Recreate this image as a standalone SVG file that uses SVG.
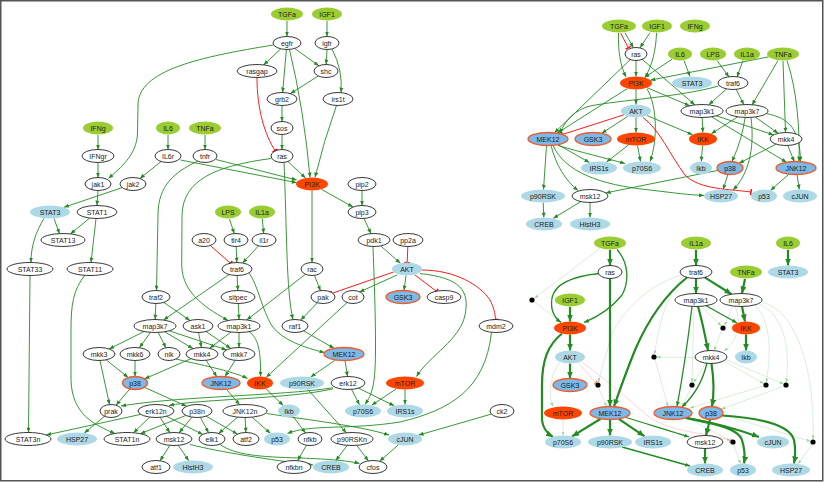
<svg xmlns="http://www.w3.org/2000/svg" width="825" height="482" viewBox="0 0 825 482">
<defs>
<marker id="a" viewBox="0 0 5 4" refX="5" refY="2" markerWidth="5" markerHeight="4" orient="auto" markerUnits="userSpaceOnUse"><path d="M0,0L5,2L0,4z" fill="#228B22"/></marker>
<marker id="A" viewBox="0 0 7 6" refX="7" refY="3" markerWidth="7" markerHeight="6" orient="auto" markerUnits="userSpaceOnUse"><path d="M0,0L7,3L0,6z" fill="#228B22"/></marker>
<marker id="f" viewBox="0 0 4 3" refX="4" refY="1.5" markerWidth="4" markerHeight="3" orient="auto" markerUnits="userSpaceOnUse"><path d="M0,0L4,1.5L0,3z" fill="#9fd29f"/></marker>
<marker id="t" viewBox="0 0 2 6" refX="1" refY="3" markerWidth="2" markerHeight="6" orient="auto" markerUnits="userSpaceOnUse"><path d="M1,0V6" stroke="#ff0000" stroke-width="1.4"/></marker>
<marker id="ft" viewBox="0 0 2 5" refX="1" refY="2.5" markerWidth="2" markerHeight="5" orient="auto" markerUnits="userSpaceOnUse"><path d="M1,0V5" stroke="#ff7070" stroke-width="1.2"/></marker>
</defs>
<style>
.s{fill:#9ACD32;stroke:none}
.w{fill:#fff;stroke:#222;stroke-width:0.9}
.m{fill:#ADD8E6;stroke:none}
.i{fill:#FF4500;stroke:none}
.mi{fill:#7CB8E8;stroke:#EE5A2C;stroke-width:1.3}
.tx{font-family:"Liberation Sans",Arial,sans-serif;font-size:7px;fill:#222;text-anchor:middle}
.e{fill:none;stroke:#228B22;stroke-width:0.9;marker-end:url(#a)}
.r{fill:none;stroke:#ff0000;stroke-width:0.9;marker-end:url(#t)}
.E{fill:none;stroke:#228B22;stroke-width:2.2;marker-end:url(#A)}
.M{fill:none;stroke:#228B22;stroke-width:1.3;marker-end:url(#a)}
.f{fill:none;stroke:#bfe3bf;stroke-width:0.6;marker-end:url(#f)}
.fr{fill:none;stroke:#ffb8b8;stroke-width:0.6;marker-end:url(#ft)}
.dot{fill:#000}
</style>
<rect x="0.75" y="0.75" width="822" height="480" fill="#fff" stroke="#555" stroke-width="1.5"/>

<g id="connectors">
<!-- LEFT PANEL -->
<path class="e" d="M287,21L287,36.5"/>
<path class="e" d="M327,21L327,36.5"/>
<path class="e" d="M280.8,48.8L263.6,64.9"/>
<path class="e" d="M286.4,49.5L282.6,92.5"/>
<path class="e" d="M294.6,48.5L318.8,65.8"/>
<path class="e" d="M289.5,49.5Q304,110 310,177.5"/>
<path class="e" d="M273.3,45C200,57 138,70 138,105L137.5,133C137,155 120,168 108.5,178.5"/>
<path class="e" d="M327,49.5L326.2,64.5"/>
<path class="e" d="M332,49Q343,70 341,92.5"/>
<path class="e" d="M318.2,76L290.4,93.6"/>
<path class="r" d="M257,77.5C257,110 265,135 275,150.5"/>
<path class="e" d="M282,105.5L282,121.5"/>
<path class="e" d="M282,134.5L282,149.5"/>
<path class="e" d="M336.5,105.5Q324,140 315,177.5"/>
<path class="e" d="M287.9,161.5L305.6,178"/>
<path class="e" d="M180.5,160L296.7,182.7"/>
<path class="e" d="M216,159.5L296.7,180"/>
<path class="e" d="M271,158.5C215,166 183,180 182,215L181.7,265C182,295 210,310 228,320.5"/>
<path class="e" d="M284,162.5C287,230 286,290 293,319.5"/>
<path class="e" d="M312,190.5L312,262.5"/>
<path class="e" d="M321.4,189.3L353,207"/>
<path class="e" d="M362,190.5L362,205.5"/>
<path class="e" d="M364,218.5L371,233.7"/>
<path class="e" d="M98,135L98,149.5"/>
<path class="e" d="M168,135L168,149.5"/>
<path class="e" d="M205,135L205,149.5"/>
<path class="e" d="M98,162.5L98,177.5"/>
<path class="e" d="M161.1,161.5L139.9,178.5"/>
<path class="e" d="M197,161.5C175,172 158,185 158,215L156.5,290.5"/>
<path class="e" d="M98,190.5L97,205.5"/>
<path class="e" d="M122.2,187.6L63.9,207.3"/>
<path class="e" d="M54,218.5L59.5,233.8"/>
<path class="e" d="M44,218.3C36,232 31,245 31,262.5"/>
<path class="e" d="M89.7,218L70.4,233.9"/>
<path class="e" d="M96,218.5L91,262.5"/>
<path class="e" d="M30,275.5L28.5,432.5"/>
<path class="e" d="M85,275C73,290 71,305 71,330L71,380C72,415 95,425 115,433.5"/>
<path class="e" d="M229.5,219L234.3,233.6"/>
<path class="e" d="M262.3,219L263.7,233.5"/>
<path class="r" d="M210.3,245.5L230.4,263.2"/>
<path class="e" d="M236.2,246.5L236.8,262.5"/>
<path class="e" d="M258.6,245.8L242.6,263"/>
<path class="e" d="M229.1,274.5L163.5,320.1"/>
<path class="e" d="M237.2,275.5L237.8,290.5"/>
<path class="e" d="M249,273C258,285 262,310 272,326C282,340 305,348 324.5,352.5"/>
<path class="e" d="M238.3,303.5L239,319.5"/>
<path class="e" d="M155.8,303.5L155.2,319.5"/>
<path class="e" d="M163.8,302.4L190,320.5"/>
<path class="e" d="M314.5,275.5L320.5,290.8"/>
<path class="e" d="M305.4,274.2L246.7,320"/>
<path class="e" d="M317.4,302.8L300.7,320.1"/>
<path class="e" d="M303.6,330.9L334.1,348.3"/>
<path class="r" d="M393.5,272L331.5,293.5"/>
<path class="e" d="M397,275L359.5,292"/>
<path class="e" d="M380.7,245.9L400.4,263.2"/>
<path class="r" d="M407.8,246.5L407.2,262.5"/>
<path class="e" d="M406,275.5L404,290.5"/>
<path class="r" d="M414.5,274.6L436.3,291.2"/>
<path class="r" d="M421.5,270C455,270 480,285 490,300C494,308 495,313 495.5,319.5"/>
<path class="e" d="M420,273.5C460,278 470,290 465,315C460,340 430,355 416.5,376.5"/>
<path class="e" d="M373,246.5C375,300 377,360 374,380C372,395 368,400 365,404.5"/>
<path class="e" d="M347.1,302.5L266.2,377.3"/>
<path class="e" d="M335.5,359.9L310.7,377"/>
<path class="e" d="M345,360.5L347.5,376.5"/>
<path class="e" d="M351.5,389.3L359.5,404.8"/>
<path class="e" d="M358.4,388.1L394.3,405.8"/>
<path class="e" d="M396.3,388.8L371.7,405.2"/>
<path class="e" d="M405,389.5L405,404.5"/>
<path class="e" d="M333,387.8C280,396 180,396 121,406"/>
<path class="e" d="M333,388.8C290,399 200,399 169,405.5"/>
<path class="e" d="M144,331.5L109.1,349"/>
<path class="e" d="M150.5,332.3L139.4,347.8"/>
<path class="e" d="M158.2,332.4L165.9,347.8"/>
<path class="e" d="M164.7,331.8L193,348.6"/>
<path class="e" d="M169.3,330.8L226.6,349.9"/>
<path class="e" d="M198.6,332.5L201.4,347.5"/>
<path class="e" d="M206,331.5L230.8,348.4"/>
<path class="e" d="M231,332L209.6,348.3"/>
<path class="e" d="M239,332.5L239,347.5"/>
<path class="e" d="M249,331.5C258,338 261,350 260.5,376.5"/>
<path class="e" d="M106.2,359.8L128.2,377.5"/>
<path class="e" d="M135,360.5L135,376.5"/>
<path class="e" d="M191,358.7L144.6,378.8"/>
<path class="e" d="M206.1,360.3L216.8,376.7"/>
<path class="e" d="M235.1,360.3L225,376.6"/>
<path class="e" d="M176,359C200,365 230,370 247.5,378.5"/>
<path class="e" d="M100,360.5L109.5,404.5"/>
<path class="e" d="M129.9,388.9L116,405.2"/>
<path class="e" d="M144.4,387.3L186.6,406.3"/>
<path class="e" d="M226.3,389.2L239.6,404.7"/>
<path class="e" d="M266,388.8L283.3,405.5"/>
<path class="e" d="M307.6,389.3L346.4,432.7"/>
<path class="e" d="M293.5,417L305.5,433"/>
<path class="e" d="M306.5,445.2L297.6,460.6"/>
<path class="e" d="M347.3,445.3L335.7,460.7"/>
<path class="e" d="M356.7,445.3L368.4,460.9"/>
<path class="e" d="M398.2,445L379.6,461.3"/>
<path class="e" d="M491.4,414.1L418.6,435.1"/>
<path class="e" d="M491.5,332.5C485,390 450,410 400,422C350,430 310,424 287.5,433.5"/>
<path class="e" d="M266.5,413.5C310,420 360,426 389,435"/>
<path class="e" d="M252,417.2L270.5,433.4"/>
<path class="e" d="M237.8,417.1L218.6,433.4"/>
<path class="e" d="M245.2,417.5L245.8,432.5"/>
<path class="e" d="M140.6,414.4L46.2,435"/>
<path class="e" d="M149.7,417.1L133.5,432.8"/>
<path class="e" d="M160.1,417.3L169.9,432.7"/>
<path class="e" d="M166.5,416.3L202.8,434.4"/>
<path class="e" d="M186,415.4L140.3,433.7"/>
<path class="e" d="M192,417.1L179.1,432.8"/>
<path class="e" d="M200.4,417.3L208.6,432.7"/>
<path class="e" d="M206.1,416.2L237.4,434.1"/>
<path class="e" d="M104.6,416.3L84.3,433"/>
<path class="e" d="M169.9,445.3L160,460.8"/>
<path class="e" d="M178.2,445.3L188.8,460.8"/>
<path class="e" d="M190,444.5C220,452 270,460 313,465"/>
<path class="e" d="M220,444.5C235,455 260,457 300,458C330,459 350,461 359.5,463.5"/>

<!-- RIGHT TOP PANEL -->
<path class="e" d="M625,32.7L633.3,47.7"/>
<path class="r" d="M620.7,33.3L628.3,47.7"/>
<path class="e" d="M650,32.7L640,47.7"/>
<path class="e" d="M618.5,33C618,50 620,65 626,77"/>
<path class="e" d="M656.5,33C656,50 652,66 645,77.5"/>
<path class="e" d="M636,60.5L636,76.5"/>
<path class="e" d="M672,59.2L644.4,77.5"/>
<path class="e" d="M684,60.5L690,76.5"/>
<path class="e" d="M717,60.5L729,77"/>
<path class="e" d="M743,60.5L737,77"/>
<path class="e" d="M768.4,56.9L650.4,80.2"/>
<path class="e" d="M778,60.5L752,105"/>
<path class="e" d="M783,61L785.5,132.5"/>
<path class="e" d="M787,60.5C797,90 800,130 799,161.5"/>
<path class="e" d="M630.3,59.5L554.4,132.8"/>
<path class="e" d="M642.2,59.4L694.9,104.9"/>
<path class="e" d="M726.5,88.9L708.8,104.8"/>
<path class="e" d="M736.2,89.4L743.8,104.6"/>
<path class="e" d="M718.5,86C680,97 620,100 590,106C575,110 565,120 560,133.5"/>
<path class="e" d="M636,89.5L636,104.5"/>
<path class="e" d="M627.4,88.5L557.1,133.2"/>
<path class="e" d="M647.1,87.7L689.6,105.7"/>
<path class="e" d="M647,89C657,105 658,140 650,161.5"/>
<path class="r" d="M623.9,114.8L562.3,134.5"/>
<path class="e" d="M627.7,116.4L601.7,133.3"/>
<path class="e" d="M636,117.5L636,132.5"/>
<path class="e" d="M646.8,115.5L692.6,134.7"/>
<path class="r" d="M643,117.5C660,130 670,155 685,175C700,190 730,189 751,192"/>
<path class="e" d="M702.2,117.5L702.8,132.5"/>
<path class="e" d="M716.3,115.8L773.6,134.9"/>
<path class="e" d="M711.6,116.8L786.6,162.3"/>
<path class="e" d="M737.8,116.8L711.3,133.7"/>
<path class="e" d="M755.3,117L778.1,133.3"/>
<path class="e" d="M745.1,117.5Q742,140 731.9,161.6"/>
<path class="e" d="M751,117.5C755,150 748,175 733,190"/>
<path class="e" d="M766,113.5C790,118 800,130 800.5,161.5"/>
<path class="e" d="M776.1,144.1L739,163.3"/>
<path class="e" d="M787.7,145.1L794.3,161.7"/>
<path class="e" d="M557.9,144.6L589.4,162.5"/>
<path class="e" d="M558,145.5C580,152 605,158 625,163.5"/>
<path class="e" d="M546.5,145.5L543.5,189.5"/>
<path class="e" d="M551,145.5C556,165 565,180 578,190.5"/>
<path class="e" d="M553,145.5C565,172 600,185 650,190C675,193 690,195 704,195.5"/>
<path class="e" d="M628.4,145L606.5,162.1"/>
<path class="e" d="M637.5,145.5L640.5,161.5"/>
<path class="e" d="M702.5,145.5L701.3,161.5"/>
<path class="e" d="M717.9,170.4L605.7,192.9"/>
<path class="e" d="M727.9,174.4L723.1,189.5"/>
<path class="e" d="M789,174.1L770.5,190.4"/>
<path class="e" d="M797,174.5L799.3,189.5"/>
<path class="e" d="M543.2,202.5L543.8,217.5"/>
<path class="e" d="M580.8,201.6L553.2,218.4"/>
<path class="e" d="M590,202.5L590,217.5"/>

<!-- RIGHT BOTTOM PANEL -->
<path class="f" d="M600,248.3L534.5,298.2"/>
<path class="f" d="M534.5,301.5L559.5,321.5"/>
<path class="f" d="M560,362C550,375 548,395 553,406.5"/>
<path class="f" d="M563,419.5L563,435.5"/>
<path class="fr" d="M577,361C585,370 590,377 595.7,382.5"/>
<path class="fr" d="M579,360C600,375 630,400 650,418C680,435 710,432 730.4,441"/>
<path class="f" d="M598.5,387.6L606.5,406.5"/>
<path class="f" d="M682,274.5C650,285 620,310 610,340C605,360 600,372 598.6,382.4"/>
<path class="f" d="M684,276C665,295 658,330 654.5,354.4"/>
<path class="f" d="M695,357.5L656.6,357"/>
<path class="f" d="M655,359.5L668,406.5"/>
<path class="f" d="M701,306L721.2,325.8"/>
<path class="f" d="M733,306L724.5,325.5"/>
<path class="f" d="M721.5,330.5L714,350.5"/>
<path class="f" d="M735,306C742,325 738,340 724,351"/>
<path class="f" d="M694,306.5L692,382.4"/>
<path class="f" d="M706,363L693.4,382.8"/>
<path class="f" d="M691,387.5L682,406.8"/>
<path class="f" d="M755,305C770,320 772,350 766.2,382.4"/>
<path class="f" d="M759,304C785,315 790,350 786.3,382.4"/>
<path class="f" d="M761,302C800,310 815,380 813,439.4"/>
<path class="f" d="M724,361L763.7,383.6"/>
<path class="f" d="M726,359.5L783.6,384"/>
<path class="f" d="M763.5,386L690,408"/>
<path class="f" d="M783.5,386.5L721.5,409"/>
<path class="f" d="M722,414.5L810.5,441.3"/>
<path class="f" d="M812,444.5L798,464"/>
<path class="f" d="M689,418.5L730.6,441"/>
<path class="f" d="M733.5,444.6L740.5,463.8"/>
<path class="E" d="M610,250L610,265.5"/>
<path class="M" d="M617,249.5C628,262 630,280 622,295C610,310 595,318 584,322.5"/>
<path class="M" d="M599,273.5C575,276 555,283 552,298C550,310 555,318 561,322.5"/>
<path class="E" d="M610,278.5L610,406.5"/>
<path class="E" d="M570,307L570,321.5"/>
<path class="E" d="M570,334.5L570,350.5"/>
<path class="E" d="M562,333.5C548,345 542,360 542,385L542,420C543,430 548,434 553,437"/>
<path class="E" d="M570,363.5L570,378.5"/>
<path class="E" d="M687,277.5C665,295 648,320 635,350C625,375 618,395 614,406.5"/>
<path class="E" d="M696,250L696,265.5"/>
<path class="E" d="M696,278.5L696,293.5"/>
<path class="E" d="M704.7,277.4L731.6,294.2"/>
<path class="E" d="M745,279L742,293.5"/>
<path class="E" d="M788,250L788,265.5"/>
<path class="E" d="M742,306.5L745,321.5"/>
<path class="M" d="M706.2,305.7L737.1,323"/>
<path class="E" d="M746,334.5L746,350.5"/>
<path class="E" d="M698,306.5C702,320 705,335 708,350.5"/>
<path class="M" d="M692,306.5C688,340 682,380 677,406.5"/>
<path class="M" d="M707,363C703,380 695,395 682,407"/>
<path class="E" d="M711.5,363.5C714,380 714,395 712,406.5"/>
<path class="E" d="M710,419.5L706,435.5"/>
<path class="E" d="M722,415.5C760,418 790,425 794,440C796,450 795,458 794,463.5"/>
<path class="E" d="M685,417.5C710,422 740,430 759,437"/>
<path class="E" d="M686,418C715,424 738,428 742,440C745,450 745,458 744,463.5"/>
<path class="E" d="M705,448.5L705,463.5"/>
<path class="M" d="M622,447L690,466"/>
<path class="E" d="M600.7,418.8L572.1,436.4"/>
<path class="E" d="M610,419.5L610,435.5"/>
<path class="E" d="M618.7,418.9L644.5,436.3"/>
<path class="M" d="M626,417.5C650,425 675,432 689,437"/>
</g>

<!-- LEFT PANEL NODES -->
<g id="L_TGFa"><ellipse class="s" cx="287" cy="14" rx="16" ry="6.5"/><text class="tx" x="287" y="16.5">TGFa</text></g>
<g id="L_IGF1"><ellipse class="s" cx="327" cy="14" rx="15" ry="6.5"/><text class="tx" x="327" y="16.5">IGF1</text></g>
<g id="L_IFNg"><ellipse class="s" cx="98" cy="128" rx="15" ry="6.5"/><text class="tx" x="98" y="130.5">IFNg</text></g>
<g id="L_IL6"><ellipse class="s" cx="168" cy="128" rx="12" ry="6.5"/><text class="tx" x="168" y="130.5">IL6</text></g>
<g id="L_TNFa"><ellipse class="s" cx="205" cy="128" rx="16" ry="6.5"/><text class="tx" x="205" y="130.5">TNFa</text></g>
<g id="L_LPS"><ellipse class="s" cx="228" cy="212" rx="13" ry="6.5"/><text class="tx" x="228" y="214.5">LPS</text></g>
<g id="L_IL1a"><ellipse class="s" cx="262" cy="212" rx="13" ry="6.5"/><text class="tx" x="262" y="214.5">IL1a</text></g>
<g id="L_egfr"><ellipse class="w" cx="287" cy="43" rx="14" ry="6.5"/><text class="tx" x="287" y="45.5">egfr</text></g>
<g id="L_igfr"><ellipse class="w" cx="327" cy="43" rx="12" ry="6.5"/><text class="tx" x="327" y="45.5">igfr</text></g>
<g id="L_rasgap"><ellipse class="w" cx="257" cy="71" rx="20" ry="6.5"/><text class="tx" x="257" y="73.5">rasgap</text></g>
<g id="L_shc"><ellipse class="w" cx="326" cy="71" rx="12" ry="6.5"/><text class="tx" x="326" y="73.5">shc</text></g>
<g id="L_grb2"><ellipse class="w" cx="282" cy="99" rx="15" ry="6.5"/><text class="tx" x="282" y="101.5">grb2</text></g>
<g id="L_irs1t"><ellipse class="w" cx="338" cy="99" rx="15" ry="6.5"/><text class="tx" x="338" y="101.5">irs1t</text></g>
<g id="L_sos"><ellipse class="w" cx="282" cy="128" rx="11" ry="6.5"/><text class="tx" x="282" y="130.5">sos</text></g>
<g id="L_ras"><ellipse class="w" cx="282" cy="156" rx="11" ry="6.5"/><text class="tx" x="282" y="158.5">ras</text></g>
<g id="L_pip2"><ellipse class="w" cx="362" cy="184" rx="14" ry="6.5"/><text class="tx" x="362" y="186.5">pip2</text></g>
<g id="L_pip3"><ellipse class="w" cx="362" cy="212" rx="14" ry="6.5"/><text class="tx" x="362" y="214.5">pip3</text></g>
<g id="L_pdk1"><ellipse class="w" cx="374" cy="240" rx="16" ry="6.5"/><text class="tx" x="374" y="242.5">pdk1</text></g>
<g id="L_pp2a"><ellipse class="w" cx="408" cy="240" rx="15" ry="6.5"/><text class="tx" x="408" y="242.5">pp2a</text></g>
<g id="L_IFNgr"><ellipse class="w" cx="98" cy="156" rx="16" ry="6.5"/><text class="tx" x="98" y="158.5">IFNgr</text></g>
<g id="L_IL6r"><ellipse class="w" cx="168" cy="156" rx="13" ry="6.5"/><text class="tx" x="168" y="158.5">IL6r</text></g>
<g id="L_tnfr"><ellipse class="w" cx="205" cy="156" rx="12" ry="6.5"/><text class="tx" x="205" y="158.5">tnfr</text></g>
<g id="L_jak1"><ellipse class="w" cx="98" cy="184" rx="13" ry="6.5"/><text class="tx" x="98" y="186.5">jak1</text></g>
<g id="L_jak2"><ellipse class="w" cx="133" cy="184" rx="13" ry="6.5"/><text class="tx" x="133" y="186.5">jak2</text></g>
<g id="L_STAT3"><ellipse class="m" cx="50" cy="212" rx="20" ry="6.5"/><text class="tx" x="50" y="214.5">STAT3</text></g>
<g id="L_STAT1"><ellipse class="w" cx="97" cy="212" rx="20" ry="6.5"/><text class="tx" x="97" y="214.5">STAT1</text></g>
<g id="L_STAT13"><ellipse class="w" cx="63" cy="240" rx="22" ry="6.5"/><text class="tx" x="63" y="242.5">STAT13</text></g>
<g id="L_a20"><ellipse class="w" cx="204" cy="240" rx="12" ry="6.5"/><text class="tx" x="204" y="242.5">a20</text></g>
<g id="L_tlr4"><ellipse class="w" cx="236" cy="240" rx="12" ry="6.5"/><text class="tx" x="236" y="242.5">tlr4</text></g>
<g id="L_il1r"><ellipse class="w" cx="264" cy="240" rx="12" ry="6.5"/><text class="tx" x="264" y="242.5">il1r</text></g>
<g id="L_STAT33"><ellipse class="w" cx="30" cy="269" rx="23" ry="6.5"/><text class="tx" x="30" y="271.5">STAT33</text></g>
<g id="L_STAT11"><ellipse class="w" cx="90" cy="269" rx="23" ry="6.5"/><text class="tx" x="90" y="271.5">STAT11</text></g>
<g id="L_traf6"><ellipse class="w" cx="237" cy="269" rx="15" ry="6.5"/><text class="tx" x="237" y="271.5">traf6</text></g>
<g id="L_rac"><ellipse class="w" cx="312" cy="269" rx="11" ry="6.5"/><text class="tx" x="312" y="271.5">rac</text></g>
<g id="L_AKT"><ellipse class="m" cx="407" cy="269" rx="15" ry="6.5"/><text class="tx" x="407" y="271.5">AKT</text></g>
<g id="L_traf2"><ellipse class="w" cx="156" cy="297" rx="14" ry="6.5"/><text class="tx" x="156" y="299.5">traf2</text></g>
<g id="L_sitpec"><ellipse class="w" cx="238" cy="297" rx="17" ry="6.5"/><text class="tx" x="238" y="299.5">sitpec</text></g>
<g id="L_pak"><ellipse class="w" cx="323" cy="297" rx="12" ry="6.5"/><text class="tx" x="323" y="299.5">pak</text></g>
<g id="L_cot"><ellipse class="w" cx="353" cy="297" rx="11" ry="6.5"/><text class="tx" x="353" y="299.5">cot</text></g>
<g id="L_GSK3"><ellipse class="mi" cx="403" cy="297" rx="17" ry="6.5"/><text class="tx" x="403" y="299.5">GSK3</text></g>
<g id="L_casp9"><ellipse class="w" cx="444" cy="297" rx="17" ry="6.5"/><text class="tx" x="444" y="299.5">casp9</text></g>
<g id="L_map3k7"><ellipse class="w" cx="155" cy="326" rx="21" ry="6.5"/><text class="tx" x="155" y="328.5">map3k7</text></g>
<g id="L_ask1"><ellipse class="w" cx="198" cy="326" rx="15" ry="6.5"/><text class="tx" x="198" y="328.5">ask1</text></g>
<g id="L_map3k1"><ellipse class="w" cx="239" cy="326" rx="21" ry="6.5"/><text class="tx" x="239" y="328.5">map3k1</text></g>
<g id="L_raf1"><ellipse class="w" cx="295" cy="326" rx="13" ry="6.5"/><text class="tx" x="295" y="328.5">raf1</text></g>
<g id="L_mdm2"><ellipse class="w" cx="496" cy="326" rx="17" ry="6.5"/><text class="tx" x="496" y="328.5">mdm2</text></g>
<g id="L_mkk3"><ellipse class="w" cx="99" cy="354" rx="16" ry="6.5"/><text class="tx" x="99" y="356.5">mkk3</text></g>
<g id="L_mkk6"><ellipse class="w" cx="135" cy="354" rx="15" ry="6.5"/><text class="tx" x="135" y="356.5">mkk6</text></g>
<g id="L_nik"><ellipse class="w" cx="169" cy="354" rx="11" ry="6.5"/><text class="tx" x="169" y="356.5">nik</text></g>
<g id="L_mkk4"><ellipse class="w" cx="202" cy="354" rx="16" ry="6.5"/><text class="tx" x="202" y="356.5">mkk4</text></g>
<g id="L_mkk7"><ellipse class="w" cx="239" cy="354" rx="16" ry="6.5"/><text class="tx" x="239" y="356.5">mkk7</text></g>
<g id="L_MEK12"><ellipse class="mi" cx="344" cy="354" rx="20" ry="6.5"/><text class="tx" x="344" y="356.5">MEK12</text></g>
<g id="L_p38"><ellipse class="mi" cx="135" cy="383" rx="12.5" ry="6.5"/><text class="tx" x="135" y="385.5">p38</text></g>
<g id="L_JNK12"><ellipse class="mi" cx="221" cy="383" rx="19" ry="6.5"/><text class="tx" x="221" y="385.5">JNK12</text></g>
<g id="L_IKK"><ellipse class="i" cx="260" cy="383" rx="13" ry="6.5"/><text class="tx" x="260" y="385.5">IKK</text></g>
<g id="L_PI3K"><ellipse class="i" cx="312" cy="184" rx="16" ry="6.5"/><text class="tx" x="312" y="186.5">PI3K</text></g>
<g id="L_p90RSK"><ellipse class="m" cx="302" cy="383" rx="22" ry="6.5"/><text class="tx" x="302" y="385.5">p90RSK</text></g>
<g id="L_erk12"><ellipse class="w" cx="348" cy="383" rx="17" ry="6.5"/><text class="tx" x="348" y="385.5">erk12</text></g>
<g id="L_mTOR"><ellipse class="i" cx="405" cy="383" rx="19" ry="6.5"/><text class="tx" x="405" y="385.5">mTOR</text></g>
<g id="L_prak"><ellipse class="w" cx="111" cy="411" rx="11" ry="6.5"/><text class="tx" x="111" y="413.5">prak</text></g>
<g id="L_erk12n"><ellipse class="w" cx="156" cy="411" rx="18" ry="6.5"/><text class="tx" x="156" y="413.5">erk12n</text></g>
<g id="L_p38n"><ellipse class="w" cx="197" cy="411" rx="15" ry="6.5"/><text class="tx" x="197" y="413.5">p38n</text></g>
<g id="L_JNK12n"><ellipse class="w" cx="245" cy="411" rx="22" ry="6.5"/><text class="tx" x="245" y="413.5">JNK12n</text></g>
<g id="L_Ikb"><ellipse class="m" cx="289" cy="411" rx="11" ry="6.5"/><text class="tx" x="289" y="413.5">Ikb</text></g>
<g id="L_p70S6"><ellipse class="m" cx="363" cy="411" rx="18" ry="6.5"/><text class="tx" x="363" y="413.5">p70S6</text></g>
<g id="L_IRS1s"><ellipse class="m" cx="405" cy="411" rx="18" ry="6.5"/><text class="tx" x="405" y="413.5">IRS1s</text></g>
<g id="L_ck2"><ellipse class="w" cx="502" cy="411" rx="12" ry="6.5"/><text class="tx" x="502" y="413.5">ck2</text></g>
<g id="L_STAT3n"><ellipse class="w" cx="28" cy="439" rx="23" ry="6.5"/><text class="tx" x="28" y="441.5">STAT3n</text></g>
<g id="L_HSP27"><ellipse class="m" cx="77" cy="439" rx="20" ry="6.5"/><text class="tx" x="77" y="441.5">HSP27</text></g>
<g id="L_STAT1n"><ellipse class="w" cx="127" cy="439" rx="23" ry="6.5"/><text class="tx" x="127" y="441.5">STAT1n</text></g>
<g id="L_msk12"><ellipse class="w" cx="174" cy="439" rx="18" ry="6.5"/><text class="tx" x="174" y="441.5">msk12</text></g>
<g id="L_elk1"><ellipse class="w" cx="212" cy="439" rx="13" ry="6.5"/><text class="tx" x="212" y="441.5">elk1</text></g>
<g id="L_atf2"><ellipse class="w" cx="246" cy="439" rx="13" ry="6.5"/><text class="tx" x="246" y="441.5">atf2</text></g>
<g id="L_p53"><ellipse class="m" cx="277" cy="439" rx="13" ry="6.5"/><text class="tx" x="277" y="441.5">p53</text></g>
<g id="L_nfkb"><ellipse class="w" cx="310" cy="439" rx="12" ry="6.5"/><text class="tx" x="310" y="441.5">nfkb</text></g>
<g id="L_p90RSKn"><ellipse class="w" cx="352" cy="439" rx="21" ry="6.5"/><text class="tx" x="352" y="441.5">p90RSKn</text></g>
<g id="L_cJUN"><ellipse class="m" cx="405" cy="439" rx="17" ry="6.5"/><text class="tx" x="405" y="441.5">cJUN</text></g>
<g id="L_atf1"><ellipse class="w" cx="156" cy="467" rx="14" ry="6.5"/><text class="tx" x="156" y="469.5">atf1</text></g>
<g id="L_HistH3"><ellipse class="m" cx="193" cy="467" rx="20" ry="6.5"/><text class="tx" x="193" y="469.5">HistH3</text></g>
<g id="L_nfkbn"><ellipse class="w" cx="294" cy="467" rx="17" ry="6.5"/><text class="tx" x="294" y="469.5">nfkbn</text></g>
<g id="L_CREB"><ellipse class="m" cx="331" cy="467" rx="18" ry="6.5"/><text class="tx" x="331" y="469.5">CREB</text></g>
<g id="L_cfos"><ellipse class="w" cx="373" cy="467" rx="14" ry="6.5"/><text class="tx" x="373" y="469.5">cfos</text></g>

<!-- RIGHT TOP NODES -->
<g id="T_TGFa"><ellipse class="s" cx="619" cy="26" rx="17" ry="6.5"/><text class="tx" x="619" y="28.5">TGFa</text></g>
<g id="T_IGF1"><ellipse class="s" cx="657" cy="26" rx="15" ry="6.5"/><text class="tx" x="657" y="28.5">IGF1</text></g>
<g id="T_IFNg"><ellipse class="s" cx="695" cy="26" rx="15" ry="6.5"/><text class="tx" x="695" y="28.5">IFNg</text></g>
<g id="T_ras"><ellipse class="w" cx="636" cy="54" rx="11" ry="6.5"/><text class="tx" x="636" y="56.5">ras</text></g>
<g id="T_IL6"><ellipse class="s" cx="680" cy="54" rx="12" ry="6.5"/><text class="tx" x="680" y="56.5">IL6</text></g>
<g id="T_LPS"><ellipse class="s" cx="713" cy="54" rx="13" ry="6.5"/><text class="tx" x="713" y="56.5">LPS</text></g>
<g id="T_IL1a"><ellipse class="s" cx="747" cy="54" rx="13" ry="6.5"/><text class="tx" x="747" y="56.5">IL1a</text></g>
<g id="T_TNFa"><ellipse class="s" cx="783" cy="54" rx="16" ry="6.5"/><text class="tx" x="783" y="56.5">TNFa</text></g>
<g id="T_PI3K"><ellipse class="i" cx="636" cy="83" rx="16" ry="6.5"/><text class="tx" x="636" y="85.5">PI3K</text></g>
<g id="T_STAT3"><ellipse class="m" cx="692" cy="83" rx="20" ry="6.5"/><text class="tx" x="692" y="85.5">STAT3</text></g>
<g id="T_traf6"><ellipse class="w" cx="733" cy="83" rx="15" ry="6.5"/><text class="tx" x="733" y="85.5">traf6</text></g>
<g id="T_AKT"><ellipse class="m" cx="636" cy="111" rx="15" ry="6.5"/><text class="tx" x="636" y="113.5">AKT</text></g>
<g id="T_map3k1"><ellipse class="w" cx="702" cy="111" rx="21" ry="6.5"/><text class="tx" x="702" y="113.5">map3k1</text></g>
<g id="T_map3k7"><ellipse class="w" cx="747" cy="111" rx="21" ry="6.5"/><text class="tx" x="747" y="113.5">map3k7</text></g>
<g id="T_MEK12"><ellipse class="mi" cx="548" cy="139" rx="20" ry="6.5"/><text class="tx" x="548" y="141.5">MEK12</text></g>
<g id="T_GSK3"><ellipse class="mi" cx="593" cy="139" rx="18" ry="6.5"/><text class="tx" x="593" y="141.5">GSK3</text></g>
<g id="T_mTOR"><ellipse class="i" cx="636" cy="139" rx="19" ry="6.5"/><text class="tx" x="636" y="141.5">mTOR</text></g>
<g id="T_IKK"><ellipse class="i" cx="703" cy="139" rx="14" ry="6.5"/><text class="tx" x="703" y="141.5">IKK</text></g>
<g id="T_mkk4"><ellipse class="w" cx="786" cy="139" rx="16" ry="6.5"/><text class="tx" x="786" y="141.5">mkk4</text></g>
<g id="T_IRS1s"><ellipse class="m" cx="599" cy="168" rx="18" ry="6.5"/><text class="tx" x="599" y="170.5">IRS1s</text></g>
<g id="T_p70S6"><ellipse class="m" cx="642" cy="168" rx="19" ry="6.5"/><text class="tx" x="642" y="170.5">p70S6</text></g>
<g id="T_Ikb"><ellipse class="m" cx="701" cy="168" rx="11" ry="6.5"/><text class="tx" x="701" y="170.5">Ikb</text></g>
<g id="T_p38"><ellipse class="mi" cx="730" cy="168" rx="13" ry="6.5"/><text class="tx" x="730" y="170.5">p38</text></g>
<g id="T_JNK12"><ellipse class="mi" cx="796" cy="168" rx="20" ry="6.5"/><text class="tx" x="796" y="170.5">JNK12</text></g>
<g id="T_p90RSK"><ellipse class="m" cx="543" cy="196" rx="22" ry="6.5"/><text class="tx" x="543" y="198.5">p90RSK</text></g>
<g id="T_msk12"><ellipse class="w" cx="590" cy="196" rx="18" ry="6.5"/><text class="tx" x="590" y="198.5">msk12</text></g>
<g id="T_HSP27"><ellipse class="m" cx="721" cy="196" rx="17" ry="6.5"/><text class="tx" x="721" y="198.5">HSP27</text></g>
<g id="T_p53"><ellipse class="m" cx="764" cy="196" rx="13" ry="6.5"/><text class="tx" x="764" y="198.5">p53</text></g>
<g id="T_cJUN"><ellipse class="m" cx="800" cy="196" rx="17" ry="6.5"/><text class="tx" x="800" y="198.5">cJUN</text></g>
<g id="T_CREB"><ellipse class="m" cx="544" cy="224" rx="18" ry="6.5"/><text class="tx" x="544" y="226.5">CREB</text></g>
<g id="T_HistH3"><ellipse class="m" cx="590" cy="224" rx="20" ry="6.5"/><text class="tx" x="590" y="226.5">HistH3</text></g>

<!-- RIGHT BOTTOM NODES -->
<g id="B_TGFa"><ellipse class="s" cx="610" cy="243" rx="16" ry="6.5"/><text class="tx" x="610" y="245.5">TGFa</text></g>
<g id="B_IL1a"><ellipse class="s" cx="696" cy="243" rx="15" ry="6.5"/><text class="tx" x="696" y="245.5">IL1a</text></g>
<g id="B_IL6"><ellipse class="s" cx="788" cy="243" rx="12" ry="6.5"/><text class="tx" x="788" y="245.5">IL6</text></g>
<g id="B_ras"><ellipse class="w" cx="610" cy="272" rx="12" ry="6.5"/><text class="tx" x="610" y="274.5">ras</text></g>
<g id="B_traf6"><ellipse class="w" cx="696" cy="272" rx="16" ry="6.5"/><text class="tx" x="696" y="274.5">traf6</text></g>
<g id="B_TNFa"><ellipse class="s" cx="746" cy="272" rx="16" ry="6.5"/><text class="tx" x="746" y="274.5">TNFa</text></g>
<g id="B_STAT3"><ellipse class="m" cx="788" cy="272" rx="20" ry="6.5"/><text class="tx" x="788" y="274.5">STAT3</text></g>
<g id="B_IGF1"><ellipse class="s" cx="570" cy="300" rx="15" ry="6.5"/><text class="tx" x="570" y="302.5">IGF1</text></g>
<g id="B_map3k1"><ellipse class="w" cx="696" cy="300" rx="21" ry="6.5"/><text class="tx" x="696" y="302.5">map3k1</text></g>
<g id="B_map3k7"><ellipse class="w" cx="741" cy="300" rx="21" ry="6.5"/><text class="tx" x="741" y="302.5">map3k7</text></g>
<g id="B_PI3K"><ellipse class="i" cx="570" cy="328" rx="16" ry="6.5"/><text class="tx" x="570" y="330.5">PI3K</text></g>
<g id="B_IKK"><ellipse class="i" cx="746" cy="328" rx="14" ry="6.5"/><text class="tx" x="746" y="330.5">IKK</text></g>
<g id="B_AKT"><ellipse class="m" cx="570" cy="357" rx="15" ry="6.5"/><text class="tx" x="570" y="359.5">AKT</text></g>
<g id="B_mkk4"><ellipse class="w" cx="711" cy="357" rx="16" ry="6.5"/><text class="tx" x="711" y="359.5">mkk4</text></g>
<g id="B_Ikb"><ellipse class="m" cx="746" cy="357" rx="11" ry="6.5"/><text class="tx" x="746" y="359.5">Ikb</text></g>
<g id="B_GSK3"><ellipse class="mi" cx="570" cy="385" rx="17" ry="6.5"/><text class="tx" x="570" y="387.5">GSK3</text></g>
<g id="B_mTOR"><ellipse class="i" cx="563" cy="413" rx="19" ry="6.5"/><text class="tx" x="563" y="415.5">mTOR</text></g>
<g id="B_MEK12"><ellipse class="mi" cx="610" cy="413" rx="20" ry="6.5"/><text class="tx" x="610" y="415.5">MEK12</text></g>
<g id="B_JNK12"><ellipse class="mi" cx="673" cy="413" rx="19" ry="6.5"/><text class="tx" x="673" y="415.5">JNK12</text></g>
<g id="B_p38"><ellipse class="mi" cx="711" cy="413" rx="12" ry="6.5"/><text class="tx" x="711" y="415.5">p38</text></g>
<g id="B_p70S6"><ellipse class="m" cx="563" cy="442" rx="18" ry="6.5"/><text class="tx" x="563" y="444.5">p70S6</text></g>
<g id="B_p90RSK"><ellipse class="m" cx="610" cy="442" rx="22" ry="6.5"/><text class="tx" x="610" y="444.5">p90RSK</text></g>
<g id="B_IRS1s"><ellipse class="m" cx="653" cy="442" rx="18" ry="6.5"/><text class="tx" x="653" y="444.5">IRS1s</text></g>
<g id="B_msk12"><ellipse class="w" cx="705" cy="442" rx="18" ry="6.5"/><text class="tx" x="705" y="444.5">msk12</text></g>
<g id="B_cJUN"><ellipse class="m" cx="773" cy="442" rx="16" ry="6.5"/><text class="tx" x="773" y="444.5">cJUN</text></g>
<g id="B_CREB"><ellipse class="m" cx="705" cy="470" rx="18" ry="6.5"/><text class="tx" x="705" y="472.5">CREB</text></g>
<g id="B_p53"><ellipse class="m" cx="743" cy="470" rx="13" ry="6.5"/><text class="tx" x="743" y="472.5">p53</text></g>
<g id="B_HSP27"><ellipse class="m" cx="791" cy="470" rx="19" ry="6.5"/><text class="tx" x="791" y="472.5">HSP27</text></g>
<g id="B_and1"><circle class="dot" cx="532" cy="300" r="2.6"/></g>
<g id="B_and2"><circle class="dot" cx="723" cy="328" r="2.6"/></g>
<g id="B_and3"><circle class="dot" cx="654" cy="357" r="2.6"/></g>
<g id="B_and4"><circle class="dot" cx="598" cy="385" r="2.6"/></g>
<g id="B_and5"><circle class="dot" cx="692" cy="385" r="2.6"/></g>
<g id="B_and6"><circle class="dot" cx="766" cy="385" r="2.6"/></g>
<g id="B_and7"><circle class="dot" cx="786" cy="385" r="2.6"/></g>
<g id="B_and8"><circle class="dot" cx="733" cy="442" r="2.6"/></g>
<g id="B_and9"><circle class="dot" cx="813" cy="442" r="2.6"/></g>
</svg>
